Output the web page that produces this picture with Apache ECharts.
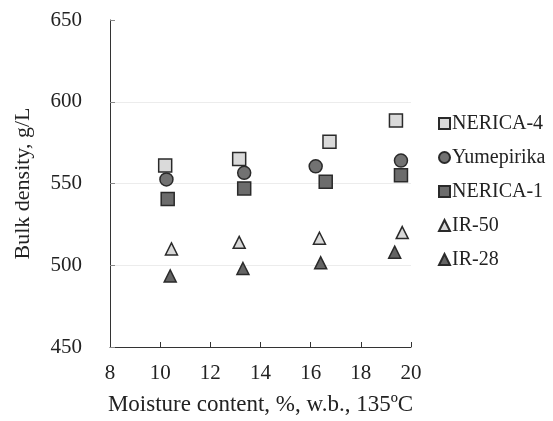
<!DOCTYPE html>
<html>
<head>
<meta charset="utf-8">
<script src="https://cdn.jsdelivr.net/npm/echarts@6/dist/echarts.min.js"></script>
<style>
  html, body { margin: 0; padding: 0; background: #fff; }
  #chart { width: 553px; height: 421px; }
</style>
</head>
<body>
<div id="chart"></div>
<script>
  'use strict'

  var SERIES_NAMES = ['NERICA-4', 'Yumepirika', 'NERICA-1', 'IR-50', 'IR-28']

  var nerica4    = [[10.2, 561], [13.15, 565], [16.75, 575.5], [19.4, 588.5]]
  var yumepirika = [[10.25, 552.5], [13.35, 556.5], [16.2, 560.5], [19.6, 564]]
  var nerica1    = [[10.3, 540.5], [13.35, 547], [16.6, 551], [19.6, 555]]
  var ir50       = [[10.45, 510], [13.15, 514], [16.35, 516.5], [19.65, 520]]
  var ir28       = [[10.4, 493.5], [13.3, 498], [16.4, 501.5], [19.35, 508]]

  var FONT = 'Liberation Serif, Times New Roman, serif'
  var TEXT = '#222'
  var GRID_LINE = '#ececec'

  var STYLES = [
    { data: nerica4,    symbol: 'rect',     fill: '#dadada' },
    { data: yumepirika, symbol: 'circle',   fill: '#727272' },
    { data: nerica1,    symbol: 'rect',     fill: '#6c6c6c' },
    { data: ir50,       symbol: 'triangle', fill: '#d8d8d8' },
    { data: ir28,       symbol: 'triangle', fill: '#646464' }
  ]

  var chart = echarts.init(document.getElementById('chart'))

  var series = STYLES.map(function (s, i) {
    return {
      name: SERIES_NAMES[i],
      type: 'scatter',
      data: s.data,
      symbol: s.symbol,
      symbolSize: s.symbol === 'triangle' ? 12 : 13,
      itemStyle: { color: s.fill, borderColor: '#2a2a2a', borderWidth: 1.5, opacity: 1 }
    }
  })

  chart.setOption({
    animation: false,
    backgroundColor: '#fff',
    grid: { left: 110, top: 20, right: 142, bottom: 73, containLabel: false },
    legend: {
      orient: 'vertical',
      left: 433,
      top: 108,
      itemWidth: 11,
      itemHeight: 11,
      itemGap: 13,
      data: SERIES_NAMES,
      textStyle: { fontFamily: FONT, fontSize: 20, color: TEXT, lineHeight: 21, padding: [0, 0, 0, -3] }
    },
    xAxis: {
      type: 'value',
      min: 8, max: 20, interval: 2,
      name: 'Moisture content, %, w.b., 135ºC',
      nameLocation: 'middle',
      nameGap: 46,
      nameTextStyle: { fontFamily: FONT, fontSize: 23, color: TEXT },
      axisLine: { show: true, onZero: false, lineStyle: { color: '#333', width: 1 } },
      axisTick: { show: true, inside: true, length: 5, lineStyle: { color: '#333' } },
      axisLabel: { fontFamily: FONT, fontSize: 21, color: TEXT, margin: 16 },
      splitLine: { show: false }
    },
    yAxis: {
      type: 'value',
      min: 450, max: 650, interval: 50,
      name: 'Bulk density, g/L',
      nameLocation: 'middle',
      nameGap: 76,
      nameTextStyle: { fontFamily: FONT, fontSize: 22, color: TEXT },
      axisLine: { show: true, lineStyle: { color: '#333', width: 1 } },
      axisTick: { show: true, inside: true, length: 5, lineStyle: { color: '#888' } },
      axisLabel: { fontFamily: FONT, fontSize: 21, color: TEXT, margin: 28 },
      splitLine: {
        show: true,
        lineStyle: { color: [GRID_LINE, GRID_LINE, GRID_LINE, GRID_LINE, 'rgba(0,0,0,0)'], width: 1 }
      }
    },
    series: series
  })
</script>
</body>
</html>
